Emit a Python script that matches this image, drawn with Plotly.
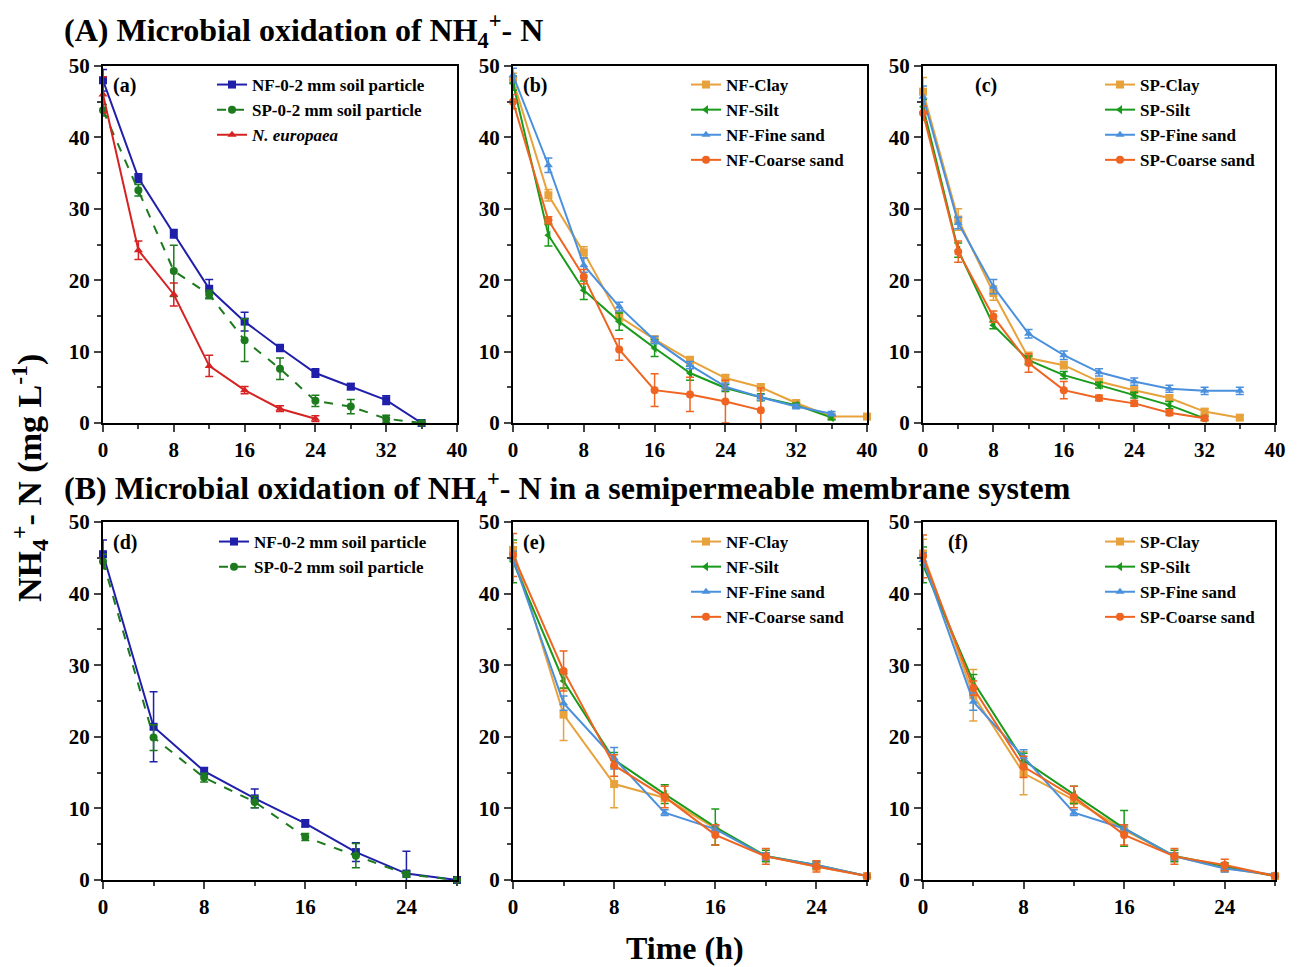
import plotly.graph_objects as go

# ---------------- data ----------------
t_a = [0, 4, 8, 12, 16, 20, 24, 28, 32, 36]
nf_a = [48.0, 34.3, 26.5, 18.8, 14.2, 10.5, 7.0, 5.1, 3.2, 0.0]
nf_a_err = [1.5, 0.6, 0.6, 1.3, 1.3, 0.5, 0.6, 0.4, 0.6, 0.0]
sp_a = [43.8, 32.6, 21.3, 18.0, 11.6, 7.6, 3.1, 2.3, 0.6, 0.0]
sp_a_err = [0.8, 0.8, 3.6, 0.6, 3.0, 1.5, 0.8, 1.0, 0.5, 0.0]
t_ne = [0, 4, 8, 12, 16, 20, 24]
ne_a = [46.0, 24.2, 18.0, 8.0, 4.6, 2.0, 0.6]
ne_a_err = [2.5, 1.3, 1.6, 1.5, 0.5, 0.4, 0.4]

t_b_clay = [0, 4, 8, 12, 16, 20, 24, 28, 32, 36, 40]
t_b = [0, 4, 8, 12, 16, 20, 24, 28, 32, 36]
t_b_coarse = [0, 4, 8, 12, 16, 20, 24, 28]
clay_b = [48.0, 31.9, 23.9, 14.9, 11.7, 8.8, 6.3, 5.0, 2.8, 0.9, 0.9]
clay_b_err = [1.0, 0.8, 0.8, 0.6, 0.5, 0.5, 0.5, 0.5, 0.3, 0.3, 0.3]
silt_b = [47.6, 26.3, 18.6, 14.2, 10.5, 7.0, 4.9, 3.6, 2.5, 0.75]
silt_b_err = [1.0, 1.5, 1.3, 1.2, 1.2, 1.0, 0.5, 0.5, 0.3, 0.3]
fine_b = [48.7, 36.1, 22.1, 16.3, 11.6, 8.1, 5.1, 3.6, 2.3, 1.3]
fine_b_err = [1.0, 1.0, 1.0, 0.6, 0.5, 0.5, 0.5, 0.4, 0.3, 0.3]
coarse_b = [45.0, 28.4, 20.5, 10.3, 4.6, 4.0, 3.0, 1.8]
coarse_b_err = [1.0, 0.5, 1.0, 1.5, 2.3, 2.4, 3.0, 3.1]

t_c36 = [0, 4, 8, 12, 16, 20, 24, 28, 32, 36]
t_c32 = [0, 4, 8, 12, 16, 20, 24, 28, 32]
clay_c = [46.4, 28.5, 18.2, 9.1, 8.1, 5.8, 4.6, 3.5, 1.6, 0.75]
clay_c_err = [2.0, 1.5, 1.0, 0.8, 0.5, 0.4, 0.4, 0.4, 0.4, 0.3]
silt_c = [44.3, 24.2, 13.7, 8.8, 6.7, 5.3, 3.9, 2.5, 0.65]
silt_c_err = [1.0, 1.0, 0.5, 0.6, 0.5, 0.4, 0.4, 0.5, 0.3]
fine_c = [45.7, 28.0, 19.1, 12.5, 9.5, 7.1, 5.8, 4.8, 4.5, 4.5]
fine_c_err = [1.5, 0.8, 1.0, 0.6, 0.6, 0.5, 0.5, 0.5, 0.5, 0.5]
coarse_c = [43.4, 24.0, 14.9, 8.4, 4.6, 3.5, 2.75, 1.45, 0.65]
coarse_c_err = [1.0, 1.5, 0.8, 1.3, 1.2, 0.4, 0.4, 0.4, 0.3]

t_m = [0, 4, 8, 12, 16, 20, 24, 28]
nf_d = [45.5, 21.4, 15.2, 11.4, 7.9, 3.9, 0.9, 0.0]
nf_d_err = [2.0, 4.9, 0.5, 1.3, 0.5, 1.3, 3.1, 0.0]
sp_d = [44.5, 19.9, 14.3, 10.9, 6.0, 3.4, 0.8, 0.0]
sp_d_err = [1.0, 1.8, 0.6, 0.8, 0.5, 1.7, 0.4, 0.0]

clay_e = [46.1, 23.1, 13.4, 11.5, 7.2, 3.3, 1.9, 0.55]
clay_e_err = [1.0, 3.6, 3.3, 0.5, 0.5, 0.5, 0.5, 0.2]
silt_e = [44.5, 27.8, 16.8, 12.0, 7.4, 3.35, 2.1, 0.55]
silt_e_err = [3.0, 1.0, 1.0, 1.3, 2.5, 0.8, 0.5, 0.2]
fine_e = [44.9, 24.7, 17.0, 9.4, 7.1, 3.3, 2.1, 0.55]
fine_e_err = [1.0, 1.0, 1.5, 0.4, 0.5, 0.5, 0.4, 0.2]
coarse_e = [45.4, 29.2, 16.0, 11.6, 6.3, 3.3, 1.9, 0.55]
coarse_e_err = [3.0, 2.8, 1.5, 1.5, 1.4, 1.1, 0.8, 0.2]

clay_f = [45.6, 25.8, 14.9, 11.2, 7.0, 3.3, 1.7, 0.55]
clay_f_err = [2.0, 3.6, 3.0, 0.6, 0.5, 0.5, 0.6, 0.2]
silt_f = [44.0, 27.7, 16.7, 11.9, 7.2, 3.35, 1.9, 0.55]
silt_f_err = [2.5, 1.0, 1.0, 1.2, 2.5, 0.8, 0.5, 0.2]
fine_f = [44.7, 24.9, 17.2, 9.4, 7.2, 3.3, 1.6, 0.7]
fine_f_err = [1.0, 1.2, 1.0, 0.4, 0.5, 0.5, 0.5, 0.2]
coarse_f = [45.2, 26.8, 15.8, 11.6, 6.3, 3.3, 2.1, 0.55]
coarse_f_err = [3.0, 1.0, 1.5, 1.5, 1.4, 1.1, 0.8, 0.2]

# ---------------- styles ----------------
FONT = "Liberation Serif"
C_NF = "#1f1faa"
C_SP = "#1d7a1d"
C_NE = "#d62222"
C_CLAY = "#e8a23c"
C_SILT = "#1a9a1a"
C_FINE = "#4a90dd"
C_COARSE = "#ee6420"

W, H = 1298, 967
fig = go.Figure()


def add(x, y, err, name, color, symbol, xa, ya, leg, dash="solid", size=8):
    fig.add_trace(go.Scatter(
        x=x, y=y, name=name, mode="lines+markers",
        line=dict(color=color, width=2, dash=dash),
        marker=dict(color=color, symbol=symbol, size=size),
        error_y=dict(type="data", array=err, color=color, thickness=1.5, width=4),
        xaxis=xa, yaxis=ya, legend=leg, cliponaxis=False,
    ))


# panel a
add(t_a, nf_a, nf_a_err, "NF-0-2 mm soil particle", C_NF, "square", "x", "y", "legend")
add(t_a, sp_a, sp_a_err, "SP-0-2 mm soil particle", C_SP, "circle", "x", "y", "legend", dash="dash")
add(t_ne, ne_a, ne_a_err, "<i>N. europaea</i>", C_NE, "triangle-up", "x", "y", "legend")
# panel b
add(t_b_clay, clay_b, clay_b_err, "NF-Clay", C_CLAY, "square", "x2", "y2", "legend2")
add(t_b, silt_b, silt_b_err, "NF-Silt", C_SILT, "triangle-left", "x2", "y2", "legend2")
add(t_b, fine_b, fine_b_err, "NF-Fine sand", C_FINE, "triangle-up", "x2", "y2", "legend2")
add(t_b_coarse, coarse_b, coarse_b_err, "NF-Coarse sand", C_COARSE, "circle", "x2", "y2", "legend2")
# panel c
add(t_c36, clay_c, clay_c_err, "SP-Clay", C_CLAY, "square", "x3", "y3", "legend3")
add(t_c32, silt_c, silt_c_err, "SP-Silt", C_SILT, "triangle-left", "x3", "y3", "legend3")
add(t_c36, fine_c, fine_c_err, "SP-Fine sand", C_FINE, "triangle-up", "x3", "y3", "legend3")
add(t_c32, coarse_c, coarse_c_err, "SP-Coarse sand", C_COARSE, "circle", "x3", "y3", "legend3")
# panel d
add(t_m, nf_d, nf_d_err, "NF-0-2 mm soil particle", C_NF, "square", "x4", "y4", "legend4")
add(t_m, sp_d, sp_d_err, "SP-0-2 mm soil particle", C_SP, "circle", "x4", "y4", "legend4", dash="dash")
# panel e
add(t_m, clay_e, clay_e_err, "NF-Clay", C_CLAY, "square", "x5", "y5", "legend5")
add(t_m, silt_e, silt_e_err, "NF-Silt", C_SILT, "triangle-left", "x5", "y5", "legend5")
add(t_m, fine_e, fine_e_err, "NF-Fine sand", C_FINE, "triangle-up", "x5", "y5", "legend5")
add(t_m, coarse_e, coarse_e_err, "NF-Coarse sand", C_COARSE, "circle", "x5", "y5", "legend5")
# panel f
add(t_m, clay_f, clay_f_err, "SP-Clay", C_CLAY, "square", "x6", "y6", "legend6")
add(t_m, silt_f, silt_f_err, "SP-Silt", C_SILT, "triangle-left", "x6", "y6", "legend6")
add(t_m, fine_f, fine_f_err, "SP-Fine sand", C_FINE, "triangle-up", "x6", "y6", "legend6")
add(t_m, coarse_f, coarse_f_err, "SP-Coarse sand", C_COARSE, "circle", "x6", "y6", "legend6")

# ---------------- layout ----------------
cols = [(103, 457), (513, 867), (923, 1275)]
rows = [(66, 423), (522, 880)]
tickfont = dict(family=FONT, size=21, color="black", weight="bold")


def xdom(c):
    return [cols[c][0] / W, cols[c][1] / W]


def ydom(r):
    return [1 - rows[r][1] / H, 1 - rows[r][0] / H]


lay = {}
for i in range(6):
    r, c = divmod(i, 3)
    sfx = "" if i == 0 else str(i + 1)
    top = r == 0
    lay["xaxis" + sfx] = dict(
        domain=xdom(c), anchor="y" + sfx, automargin=False,
        range=[0, 40] if top else [0, 28],
        tickmode="linear", tick0=0, dtick=8,
        ticks="outside", ticklen=7, tickwidth=2,
        minor=dict(dtick=4, ticks="outside", ticklen=4, tickwidth=2, showgrid=False),
        showline=True, linewidth=2, linecolor="black", mirror=True,
        showgrid=False, zeroline=False, tickfont=tickfont,
    )
    lay["yaxis" + sfx] = dict(
        domain=ydom(r), anchor="x" + sfx, range=[0, 50], automargin=False,
        tickmode="linear", tick0=0, dtick=10,
        ticks="outside", ticklen=7, tickwidth=2,
        minor=dict(dtick=5, ticks="outside", ticklen=4, tickwidth=2, showgrid=False),
        showline=True, linewidth=2, linecolor="black", mirror=True,
        showgrid=False, zeroline=False, tickfont=tickfont,
    )

legfont = dict(family=FONT, size=17, color="black", weight="bold")
leg_pos = [(212, 67), (686, 67), (1100, 67), (214, 524), (686, 524), (1100, 524)]
for i, (lx, ly) in enumerate(leg_pos):
    key = "legend" if i == 0 else "legend%d" % (i + 1)
    lay[key] = dict(x=lx / W, y=1 - ly / H, xanchor="left", yanchor="top",
                    bgcolor="rgba(0,0,0,0)", font=legfont, tracegroupgap=0,
                    itemclick=False)

ann = []
title_font = dict(family=FONT, size=32, color="black")
ann.append(dict(text="<b>(A) Microbial oxidation of NH<sub>4</sub><sup>+</sup>- N</b>",
                x=62 / W, y=1 - 30 / H, xref="paper", yref="paper",
                xanchor="left", yanchor="middle", showarrow=False, font=title_font))
ann.append(dict(text="<b>(B) Microbial oxidation of NH<sub>4</sub><sup>+</sup>- N in a semipermeable membrane system</b>",
                x=62 / W, y=1 - 488 / H, xref="paper", yref="paper",
                xanchor="left", yanchor="middle", showarrow=False, font=title_font))
ann.append(dict(text="<b>NH<sub>4</sub><sup>+</sup>- N (mg L<sup>-1</sup>)</b>",
                x=29 / W, y=1 - 478 / H, xref="paper", yref="paper", textangle=-90,
                xanchor="center", yanchor="middle", showarrow=False,
                font=dict(family=FONT, size=34, color="black")))
ann.append(dict(text="<b>Time (h)</b>",
                x=685 / W, y=1 - 948 / H, xref="paper", yref="paper",
                xanchor="center", yanchor="middle", showarrow=False,
                font=dict(family=FONT, size=32, color="black")))
labels = [("(a)", 111, 85), ("(b)", 521, 85), ("(c)", 973, 85),
          ("(d)", 111, 542), ("(e)", 521, 542), ("(f)", 946, 542)]
for txt, lx, ly in labels:
    ann.append(dict(text="<b>%s</b>" % txt, x=lx / W, y=1 - ly / H,
                    xref="paper", yref="paper", xanchor="left", yanchor="middle",
                    showarrow=False, font=dict(family=FONT, size=20, color="black")))

fig.update_layout(
    width=W, height=H, margin=dict(l=0, r=0, t=0, b=0, autoexpand=False),
    paper_bgcolor="white", plot_bgcolor="white",
    font=dict(family=FONT, color="black"),
    annotations=ann, **lay,
)
fig.write_html("out.html")
